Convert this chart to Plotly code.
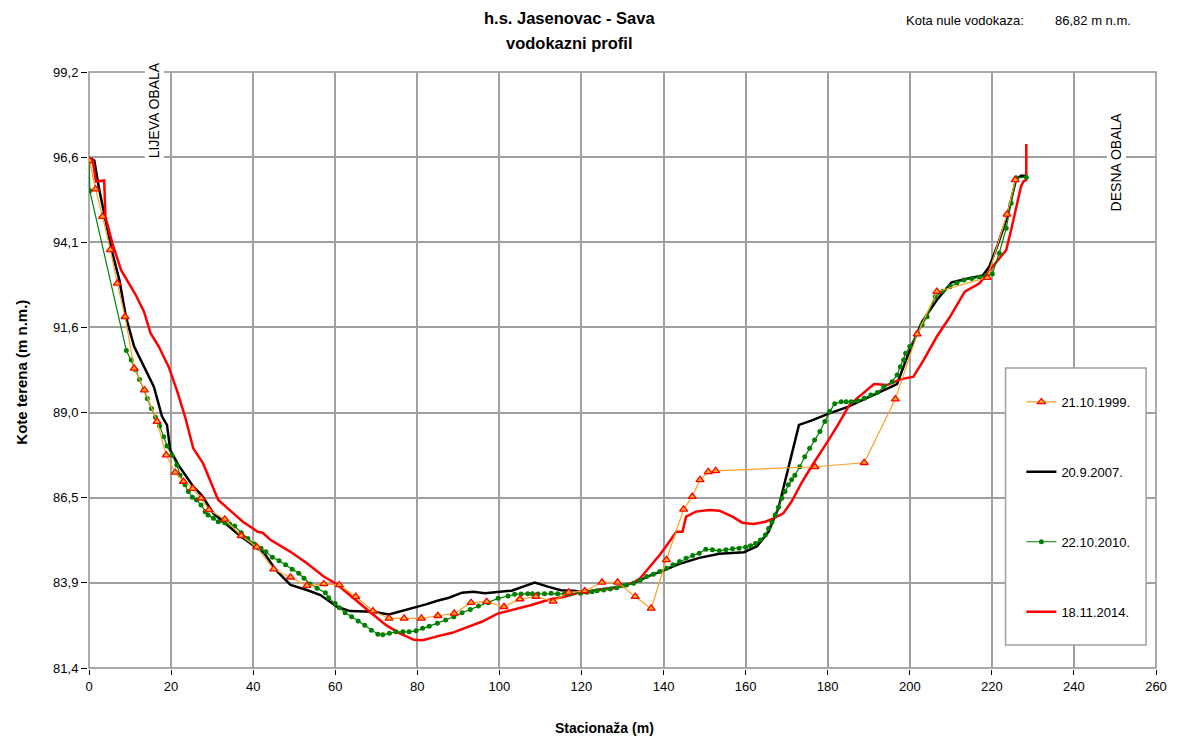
import plotly.graph_objects as go

# ---------------- data ----------------
x_1999 = [0.1, 1.6, 3.3, 5.2, 6.9, 8.8, 11.0, 13.5, 16.6, 18.8, 21.0, 23.0, 25.3, 27.3, 29.2, 33.1,
          37.1, 40.9, 45.0, 49.1, 53.1, 57.2, 61.0, 65.0, 69.2, 73.1, 76.8, 81.0, 85.0, 89.0, 93.1,
          96.9, 101.1, 105.0, 108.9, 113.1, 116.9, 120.8, 125.0, 128.8, 133.1, 137.0, 140.7, 144.9,
          147.0, 148.9, 150.9, 152.7, 176.9, 188.9, 196.5, 201.8, 206.6, 218.9, 223.7, 225.7]
y_1999 = [96.55, 95.70, 94.88, 93.89, 92.89, 91.89, 90.35, 89.70, 88.76, 87.76, 87.24, 86.97, 86.76,
          86.47, 86.12, 85.84, 85.35, 85.01, 84.35, 84.11, 83.86, 83.91, 83.88, 83.53, 83.10, 82.88,
          82.88, 82.88, 82.96, 83.03, 83.35, 83.38, 83.23, 83.46, 83.53, 83.39, 83.66, 83.70, 83.96,
          83.96, 83.53, 83.18, 84.63, 86.14, 86.52, 87.02, 87.26, 87.29, 87.41, 87.53, 89.43, 91.37,
          92.64, 93.06, 94.95, 95.98]

x_2007 = [0.5, 1.3, 2.5, 5.7, 7.4, 9.0, 11.0, 13.4, 15.8, 17.8, 19.0, 19.8, 21.8, 25.4, 27.4, 30.3,
          37.1, 42.7, 45.5, 49.1, 53.1, 56.4, 60.4, 63.6, 66.8, 69.2, 73.1, 76.5, 79.7, 82.1, 84.9,
          87.7, 90.9, 93.6, 96.5, 99.7, 103.0, 105.8, 108.6, 111.8, 115.0, 118.2, 120.6, 123.8, 129.5,
          133.5, 136.7, 139.9, 143.9, 148.7, 153.6, 159.6, 162.8, 165.6, 168.0, 170.4, 173.0, 176.0,
          180.1, 184.9, 188.9, 192.9, 196.9, 199.7, 203.0, 206.6, 210.2, 213.4, 217.8, 219.4, 221.4,
          223.5, 225.9, 227.1, 228.3]
y_2007 = [96.62, 96.55, 95.68, 93.79, 92.99, 91.89, 91.00, 90.40, 89.80, 88.91, 88.66, 87.91, 87.46,
          86.82, 86.57, 86.02, 85.32, 84.83, 84.33, 83.88, 83.73, 83.58, 83.23, 83.10, 83.10, 83.08,
          83.00, 83.11, 83.23, 83.30, 83.41, 83.50, 83.65, 83.68, 83.63, 83.67, 83.71, 83.83, 83.95,
          83.83, 83.72, 83.71, 83.65, 83.73, 83.83, 83.98, 84.16, 84.31, 84.51, 84.69, 84.81, 84.86,
          85.04, 85.47, 86.18, 87.37, 88.66, 88.79, 88.99, 89.20, 89.43, 89.65, 89.88, 90.80, 91.74,
          92.39, 92.92, 93.01, 93.12, 93.39, 94.03, 94.78, 95.99, 96.10, 96.10]

x_2010 = [0.0, 0.2, 9.1, 10.3, 11.4, 12.3, 13.4, 14.2, 15.2, 16.2, 17.2, 18.2, 19.0, 20.2, 21.4,
          22.2, 23.4, 24.2, 25.2, 26.2, 27.3, 28.3, 29.0, 30.3, 31.5, 33.1, 34.3, 35.5, 37.1, 38.7,
          40.3, 41.9, 43.1, 44.7, 46.3, 47.9, 49.5, 51.1, 52.4, 53.9, 55.6, 57.6, 58.4, 60.0, 61.0,
          62.4, 64.0, 65.6, 67.2, 68.8, 70.4, 71.6, 73.2, 74.8, 76.5, 78.0, 79.7, 81.3, 82.9, 84.9,
          86.9, 88.9, 90.9, 92.9, 94.9, 97.3, 99.7, 102.1, 103.7, 105.3, 106.9, 108.0, 109.4, 111.0,
          112.6, 114.2, 115.8, 117.4, 119.8, 121.4, 122.6, 123.8, 125.4, 127.0, 128.6, 130.2, 131.0,
          132.7, 134.3, 135.9, 137.5, 139.1, 140.7, 142.3, 143.9, 145.5, 147.1, 148.7, 150.3, 151.9,
          153.6, 155.2, 156.8, 158.4, 160.0, 161.2, 162.4, 163.6, 164.8, 165.6, 166.4, 167.2, 168.0,
          168.8, 169.6, 170.4, 171.2, 172.0, 173.2, 174.4, 175.6, 176.8, 178.1, 179.3, 180.5, 181.7,
          183.3, 184.5, 185.7, 187.3, 188.9, 190.5, 192.1, 193.7, 195.7, 196.9, 197.7, 198.5, 199.0,
          200.0, 201.8, 203.0, 204.2, 206.2, 208.0, 209.8, 211.5, 213.2, 215.1, 217.0, 218.6, 220.1,
          221.8, 223.5, 224.7, 225.9, 228.4]
y_2010 = [96.50, 95.65, 90.88, 90.60, 90.30, 90.02, 89.72, 89.45, 89.15, 88.89, 88.63, 88.31, 88.03,
          87.76, 87.46, 87.16, 86.87, 86.67, 86.50, 86.42, 86.27, 86.07, 85.97, 85.87, 85.77, 85.74,
          85.70, 85.64, 85.44, 85.27, 85.10, 84.98, 84.87, 84.71, 84.60, 84.48, 84.35, 84.23, 84.08,
          83.91, 83.78, 83.65, 83.50, 83.33, 83.20, 83.05, 82.93, 82.80, 82.68, 82.53, 82.41, 82.39,
          82.44, 82.48, 82.48, 82.48, 82.51, 82.59, 82.65, 82.74, 82.83, 82.93, 83.05, 83.15, 83.25,
          83.35, 83.48, 83.55, 83.60, 83.61, 83.62, 83.62, 83.61, 83.62, 83.63, 83.62, 83.61, 83.62,
          83.63, 83.66, 83.68, 83.71, 83.73, 83.76, 83.80, 83.86, 83.88, 83.93, 84.02, 84.13, 84.20,
          84.28, 84.38, 84.48, 84.58, 84.68, 84.76, 84.83, 84.95, 84.93, 84.90, 84.93, 84.96, 84.98,
          85.01, 85.05, 85.12, 85.22, 85.37, 85.57, 85.75, 85.97, 86.20, 86.47, 86.67, 86.87, 87.02,
          87.16, 87.41, 87.71, 87.96, 88.21, 88.46, 88.76, 89.06, 89.29, 89.35, 89.35, 89.35, 89.38,
          89.46, 89.55, 89.63, 89.80, 89.95, 90.15, 90.40, 90.60, 90.80, 91.00, 91.40, 91.65, 91.89,
          92.49, 92.65, 92.79, 92.90, 92.99, 93.03, 93.07, 93.12, 93.17, 93.79, 94.53, 95.28, 96.04,
          96.06]

x_2014 = [0.0, 0.9, 1.7, 3.7, 4.0, 5.7, 7.8, 9.4, 11.4, 13.4, 15.0, 17.0, 19.4, 21.4, 23.4, 25.4,
          27.8, 30.3, 31.5, 34.7, 37.5, 41.1, 42.3, 44.3, 49.1, 53.1, 57.2, 60.4, 64.4, 68.4, 72.4,
          75.6, 79.2, 81.3, 85.3, 88.5, 91.7, 95.7, 99.7, 103.8, 107.8, 111.8, 115.8, 119.8, 123.8,
          127.9, 132.7, 134.3, 136.7, 139.1, 141.1, 143.1, 144.6, 145.5, 147.9, 151.2, 153.6, 156.8,
          159.2, 162.0, 164.8, 166.8, 169.2, 171.2, 173.6, 176.0, 179.7, 182.5, 185.3, 188.1, 191.3,
          194.5, 197.7, 200.9, 203.4, 206.6, 209.8, 213.4, 217.0, 220.2, 223.5, 224.7, 225.9, 227.1,
          227.7, 228.4, 228.4]
y_2014 = [96.62, 96.57, 95.93, 95.96, 94.88, 94.08, 93.29, 92.94, 92.54, 92.04, 91.40, 91.00, 90.40,
          89.70, 88.91, 87.96, 87.51, 86.77, 86.42, 86.07, 85.77, 85.47, 85.44, 85.22, 84.87, 84.53,
          84.13, 83.90, 83.48, 83.08, 82.68, 82.44, 82.24, 82.23, 82.36, 82.45, 82.60, 82.78, 83.03,
          83.15, 83.28, 83.43, 83.53, 83.66, 83.73, 83.78, 83.95, 84.08, 84.43, 84.78, 85.12, 85.47,
          85.47, 85.92, 86.07, 86.12, 86.10, 85.92, 85.74, 85.70, 85.77, 85.87, 86.02, 86.37, 86.92,
          87.41, 88.11, 88.66, 89.26, 89.55, 89.88, 89.85, 90.02, 90.10, 90.60, 91.30, 91.89, 92.64,
          92.89, 93.39, 93.88, 94.48, 95.18, 95.78, 95.93, 95.98, 97.05]

y_tick_labels = ["81,4", "83,9", "86,5", "89,0", "91,6", "94,1", "96,6", "99,2"]
y_min, y_max = 81.4, 99.2
x_ticks = list(range(0, 261, 20))

# ---------------- figure ----------------
FONT = "Liberation Sans, Arial, sans-serif"
fig = go.Figure()

fig.add_trace(go.Scatter(x=x_1999, y=y_1999, name="21.10.1999.", mode="lines+markers",
                         line=dict(color="#FFA020", width=1.2),
                         marker=dict(symbol="triangle-up", size=7, color="#FFB020",
                                     line=dict(color="#FF0000", width=1.3)),
                         legendgroup="a", zorder=4))
fig.add_trace(go.Scatter(x=x_2007, y=y_2007, name="20.9.2007.", mode="lines",
                         line=dict(color="#000000", width=2.5), legendgroup="b", zorder=1))
fig.add_trace(go.Scatter(x=x_2010, y=y_2010, name="22.10.2010.", mode="lines+markers",
                         line=dict(color="#008000", width=1.2),
                         marker=dict(symbol="circle", size=5, color="#008000"),
                         legendgroup="c", zorder=3))
fig.add_trace(go.Scatter(x=x_2014, y=y_2014, name="18.11.2014.", mode="lines",
                         line=dict(color="#FF0000", width=2.5), legendgroup="d", zorder=2))

n = len(y_tick_labels) - 1
tickvals = [y_min + k * (y_max - y_min) / n for k in range(n + 1)]

# final figure size (body margin removed after load, figure resized to this)
PW, PH = 1174, 738
PL, PR, PT, PB = 89, 1167, 72, 668
pw, ph = PR - PL, PB - PT
# initial size small enough to avoid any scrollbar with the default body margin
W0, H0 = 1166, 722

def px_x(px):
    return (px - PL) / pw

def px_y(py):
    return (PB - py) / ph

fig.update_layout(
    width=W0, height=H0,
    margin=dict(l=PL, r=PW - PR, t=PT, b=PH - PB, pad=0),
    paper_bgcolor="white", plot_bgcolor="white",
    font=dict(family=FONT, size=13, color="#000000"),
    showlegend=True,
    legend=dict(x=px_x(1031), y=px_y(387), xanchor="left", yanchor="top",
                bgcolor="rgba(0,0,0,0)", borderwidth=0, tracegroupgap=50,
                font=dict(family=FONT, size=13), itemwidth=30,
                traceorder="grouped"),
    xaxis=dict(range=[0, 260], tickvals=x_ticks, showgrid=True, gridcolor="#A0A0A0", gridwidth=1.5,
               zeroline=False, showline=True, linecolor="#000000", linewidth=2,
               ticks="outside", ticklen=5, tickcolor="#000000", tickwidth=1,
               tickfont=dict(size=13), ticklabeloverflow="allow"),
    yaxis=dict(range=[y_min, y_max], tickvals=tickvals, ticktext=y_tick_labels,
               showgrid=True, gridcolor="#A0A0A0", gridwidth=1.5,
               zeroline=False, showline=True, linecolor="#000000", linewidth=2,
               ticks="outside", ticklen=6, tickcolor="#000000", tickwidth=1,
               tickfont=dict(size=13), ticklabeloverflow="allow"),
)

# plot-area border (top/right gray)
fig.add_shape(type="rect", xref="paper", yref="paper", x0=0, y0=0, x1=1, y1=1,
              line=dict(color="#909090", width=1.5), layer="below")
# legend box
fig.add_shape(type="rect", xref="paper", yref="paper",
              x0=px_x(1015), x1=px_x(1157), y0=px_y(645), y1=px_y(368),
              line=dict(color="#A0A0A0", width=1.5), fillcolor="white", layer="above")

ann = [
    dict(text="<b>h.s. Jasenovac - Sava</b>", x=px_x(574), y=px_y(18), font=dict(size=16.5)),
    dict(text="<b>vodokazni profil</b>", x=px_x(574), y=px_y(43), font=dict(size=16.5)),
    dict(text="Kota nule vodokaza:", x=px_x(912), y=px_y(20), xanchor="left", font=dict(size=13)),
    dict(text="86,82 m n.m.", x=px_x(1063), y=px_y(20), xanchor="left", font=dict(size=13)),
    dict(text="<b>Stacionaža (m)</b>", x=px_x(610), y=px_y(728), font=dict(size=14)),
    dict(text="<b>Kote terena (m n.m.)</b>", x=px_x(20), y=px_y(372), textangle=-90, font=dict(size=15)),
    dict(text="LIJEVA OBALA", x=px_x(155), y=px_y(110), textangle=-90, font=dict(size=14),
         bgcolor="white"),
    dict(text="DESNA OBALA", x=px_x(1127), y=px_y(162), textangle=-90, font=dict(size=14),
         bgcolor="white"),
]
for a in ann:
    a.setdefault("xanchor", "center")
    fig.add_annotation(xref="paper", yref="paper", showarrow=False, yanchor="middle", **a)

post = (
    "document.body.style.margin='0px';"
    "document.body.style.overflow='hidden';"
    "var gd=document.getElementById('{plot_id}');"
    "gd.style.width='%dpx'; gd.style.height='%dpx';"
    "Plotly.relayout(gd, {width: %d, height: %d});" % (PW, PH, PW, PH)
)

fig.write_html(
    "out.html",
    config={"responsive": False, "displayModeBar": False},
    post_script=post,
)
